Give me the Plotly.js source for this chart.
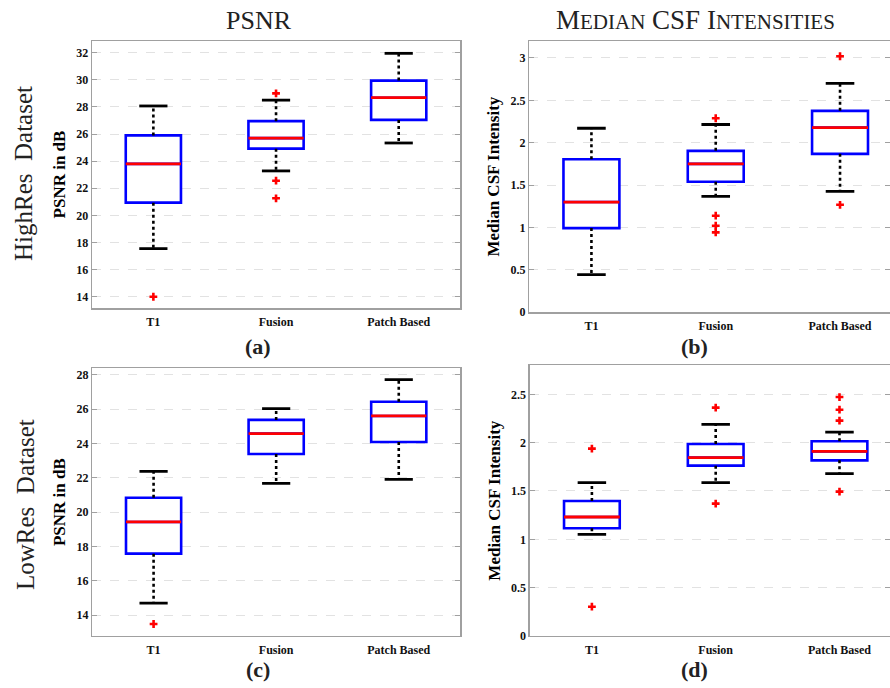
<!DOCTYPE html>
<html>
<head>
<meta charset="utf-8">
<script src="https://cdn.plot.ly/plotly-3.0.1.min.js"></script>
<style>html,body{margin:0;padding:0;background:#fff;}#chart{width:890px;height:688px;}</style>
</head>
<body>
<div id="chart"></div>
<script>
// Categories
const categories = ['T1', 'Fusion', 'Patch Based'];

// (a) HighRes PSNR
const aLower = [17.55, 23.28, 25.34];
const aQ1    = [20.94, 24.92, 27.04];
const aMed   = [23.80, 25.70, 28.68];
const aQ3    = [25.90, 26.95, 29.94];
const aUpper = [28.07, 28.50, 31.95];
const aOut   = [[14.0], [29.0, 22.56, 21.26], []];

// (b) HighRes Median CSF Intensity
const bLower = [0.444, 1.367, 1.425];
const bQ1    = [0.993, 1.539, 1.869];
const bMed   = [1.300, 1.751, 2.179];
const bQ3    = [1.806, 1.904, 2.376];
const bUpper = [2.171, 2.215, 2.700];
const bOut   = [[], [2.289, 1.139, 1.021, 0.942], [3.02, 1.268]];

// (c) LowRes PSNR
const cLower = [14.70, 21.68, 21.91];
const cQ1    = [17.58, 23.39, 24.09];
const cMed   = [19.43, 24.58, 25.61];
const cQ3    = [20.84, 25.38, 26.44];
const cUpper = [22.38, 26.04, 27.73];
const cOut   = [[13.48], [], []];

// (d) LowRes Median CSF Intensity
const dLower = [1.052, 1.586, 1.679];
const dQ1    = [1.114, 1.762, 1.817];
const dMed   = [1.231, 1.845, 1.910];
const dQ3    = [1.397, 1.986, 2.014];
const dUpper = [1.586, 2.190, 2.110];
const dOut   = [[1.938, 0.303], [2.362, 1.369], [2.472, 2.341, 2.228, 1.493]];

// Text
const colTitles = ['PSNR', 'M<span style="font-size:21px">EDIAN</span> CSF I<span style="font-size:21px">NTENSITIES</span>'];
const rowTitles = ['HighRes\u00A0\u00A0Dataset', 'LowRes\u00A0\u00A0Dataset'];
const yTitles = ['PSNR in dB', 'Median CSF Intensity'];
const panelLabels = ['(a)', '(b)', '(c)', '(d)'];

const BOXW = 0.45, CAPW = 0.23;
const SERIF = '"Liberation Serif", "Times New Roman", serif';

const panels = [
  {ax: '', lo: aLower, q1: aQ1, md: aMed, q3: aQ3, up: aUpper, out: aOut},
  {ax: '2', lo: bLower, q1: bQ1, md: bMed, q3: bQ3, up: bUpper, out: bOut},
  {ax: '3', lo: cLower, q1: cQ1, md: cMed, q3: cQ3, up: cUpper, out: cOut},
  {ax: '4', lo: dLower, q1: dQ1, md: dMed, q3: dQ3, up: dUpper, out: dOut}
];

const traces = [];
panels.forEach(p => {
  const xa = 'x' + p.ax, ya = 'y' + p.ax;
  const pos = categories.map((c, i) => i + 1);
  traces.push({
    type: 'box', xaxis: xa, yaxis: ya, x: pos,
    q1: p.q1, median: p.md, q3: p.q3, lowerfence: p.q1, upperfence: p.q3,
    width: BOXW, whiskerwidth: 0, boxpoints: false,
    fillcolor: '#ffffff', line: {color: '#0000ff', width: 2.6},
    hoverinfo: 'skip', showlegend: false
  });
  const wx = [], wy = [], cx = [], cy = [], mx = [], my = [], ox = [], oy = [];
  pos.forEach((x, i) => {
    wx.push(x, x, null, x, x, null);
    wy.push(p.q3[i], p.up[i], null, p.q1[i], p.lo[i], null);
    cx.push(x - CAPW / 2, x + CAPW / 2, null, x - CAPW / 2, x + CAPW / 2, null);
    cy.push(p.up[i], p.up[i], null, p.lo[i], p.lo[i], null);
    mx.push(x - BOXW / 2, x + BOXW / 2, null);
    my.push(p.md[i], p.md[i], null);
    p.out[i].forEach(v => { ox.push(x); oy.push(v); });
  });
  traces.push({type: 'scatter', mode: 'lines', xaxis: xa, yaxis: ya, x: wx, y: wy,
    line: {color: '#000', width: 2.6, dash: 'dot'}, hoverinfo: 'skip', showlegend: false});
  traces.push({type: 'scatter', mode: 'lines', xaxis: xa, yaxis: ya, x: cx, y: cy,
    line: {color: '#000', width: 2.8}, hoverinfo: 'skip', showlegend: false});
  traces.push({type: 'scatter', mode: 'lines', xaxis: xa, yaxis: ya, x: mx, y: my,
    line: {color: '#ff0000', width: 2.8}, hoverinfo: 'skip', showlegend: false});
  traces.push({type: 'scatter', mode: 'markers', xaxis: xa, yaxis: ya, x: ox, y: oy,
    marker: {symbol: 'cross', color: '#ff0000', size: 6.5, line: {width: 0}},
    hoverinfo: 'skip', showlegend: false});
});

function xaxis(domain, range, anchor) {
  return {
    domain: domain, range: range, anchor: anchor,
    tickmode: 'array', tickvals: [1, 2, 3], ticktext: categories,
    ticks: '', showgrid: false, zeroline: false,
    showline: true, linecolor: '#a0a0a0', linewidth: 1.5, mirror: true,
    tickfont: {family: SERIF, size: 12, color: '#111', weight: 'bold'}, ticklabelstandoff: 2
  };
}
function yaxis(domain, range, dtick, anchor, title) {
  return {
    domain: domain, range: range, dtick: dtick, tick0: 0, anchor: anchor,
    ticks: 'inside', ticklen: 5, tickcolor: '#a0a0a0', tickwidth: 1,
    showgrid: true, gridcolor: '#e2e2e2', griddash: 'dash', gridwidth: 1,
    zeroline: false, showline: true, linecolor: '#a0a0a0', linewidth: 1.5, mirror: 'ticks',
    tickfont: {family: SERIF, size: 12, color: '#111', weight: 'bold'},
    title: {text: '<b>' + title + '</b>', font: {family: SERIF, size: 17, color: '#000'}, standoff: 6}
  };
}

const layout = {
  width: 890, height: 688,
  margin: {l: 0, r: 0, t: 0, b: 0},
  paper_bgcolor: '#fff', plot_bgcolor: '#fff',
  showlegend: false,
  xaxis:  xaxis([0.1034, 0.5169], [0.5, 3.5], 'y'),
  yaxis:  yaxis([0.5523, 0.9404], [13.17, 32.86], 2, 'x', yTitles[0]),
  xaxis2: xaxis([0.5947, 1.0], [0.5, 3.402], 'y2'),
  yaxis2: yaxis([0.5461, 0.9404], [0, 3.2], 0.5, 'x2', yTitles[1]),
  xaxis3: xaxis([0.1037, 0.5169], [0.5, 3.5], 'y3'),
  yaxis3: yaxis([0.0756, 0.4647], [12.78, 28.39], 2, 'x3', yTitles[0]),
  xaxis4: xaxis([0.5955, 1.0], [0.5, 3.408], 'y4'),
  yaxis4: yaxis([0.0756, 0.4690], [0, 2.8], 0.5, 'x4', yTitles[1]),
  annotations: [
    {text: colTitles[0], xref: 'paper', yref: 'paper', x: 259 / 890, y: 1 - 20 / 688,
     showarrow: false, xanchor: 'center', yanchor: 'middle', font: {family: SERIF, size: 26, color: '#222'}},
    {text: colTitles[1], xref: 'paper', yref: 'paper', x: 695 / 890, y: 1 - 20 / 688,
     showarrow: false, xanchor: 'center', yanchor: 'middle', font: {family: SERIF, size: 27, color: '#222'}},
    {text: rowTitles[0], xref: 'paper', yref: 'paper', x: 23 / 890, y: 1 - 174 / 688, textangle: -90,
     showarrow: false, xanchor: 'center', yanchor: 'middle', font: {family: SERIF, size: 25, color: '#222'}},
    {text: rowTitles[1], xref: 'paper', yref: 'paper', x: 25 / 890, y: 1 - 505 / 688, textangle: -90,
     showarrow: false, xanchor: 'center', yanchor: 'middle', font: {family: SERIF, size: 25, color: '#222'}},
    {text: '<b>' + panelLabels[0] + '</b>', xref: 'paper', yref: 'paper', x: 258 / 890, y: 1 - 346 / 688,
     showarrow: false, xanchor: 'center', yanchor: 'middle', font: {family: SERIF, size: 22, color: '#222'}},
    {text: '<b>' + panelLabels[1] + '</b>', xref: 'paper', yref: 'paper', x: 694 / 890, y: 1 - 346 / 688,
     showarrow: false, xanchor: 'center', yanchor: 'middle', font: {family: SERIF, size: 22, color: '#222'}},
    {text: '<b>' + panelLabels[2] + '</b>', xref: 'paper', yref: 'paper', x: 258 / 890, y: 1 - 669 / 688,
     showarrow: false, xanchor: 'center', yanchor: 'middle', font: {family: SERIF, size: 22, color: '#222'}},
    {text: '<b>' + panelLabels[3] + '</b>', xref: 'paper', yref: 'paper', x: 694 / 890, y: 1 - 669 / 688,
     showarrow: false, xanchor: 'center', yanchor: 'middle', font: {family: SERIF, size: 22, color: '#222'}}
  ]
};

Plotly.newPlot('chart', traces, layout, {staticPlot: true, displayModeBar: false});
</script>
</body>
</html>
